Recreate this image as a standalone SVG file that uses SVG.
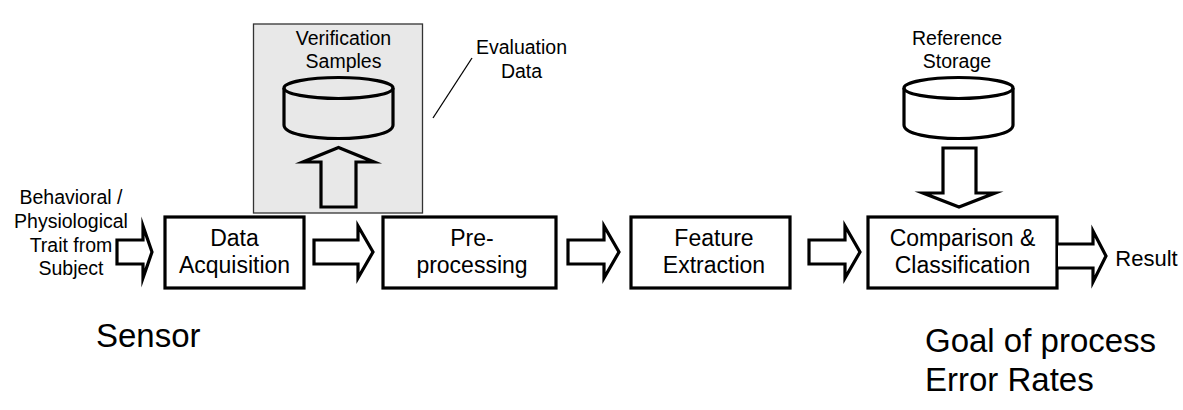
<svg xmlns="http://www.w3.org/2000/svg" width="1183" height="410" viewBox="0 0 1183 410">
<style>
text{font-family:"Liberation Sans",Arial,sans-serif;fill:#000;text-anchor:middle}
.s{font-size:19.500px}.m{font-size:23px}.l{font-size:33px;text-anchor:start}
.b{fill:#fff;stroke:#000;stroke-width:3.2}
.a{fill:#fff;stroke:#000;stroke-width:3.2;stroke-linejoin:miter;stroke-miterlimit:10}
.g{fill:#e8e8e8}
.c{stroke:#000;stroke-width:3.2}
</style>
<rect width="1183" height="410" fill="#fff"/>
<g id="evaluation-panel"><rect x="253.500" y="24" width="169" height="189" fill="#e8e8e8" stroke="#333" stroke-width="1.300"/></g>
<g id="verification-samples">
<text class="s" x="343.500" y="45">Verification</text><text class="s" x="343.500" y="68">Samples</text>
<path class="c g" d="M284 88V125C284 143 393 143 393 125V88"/><ellipse class="c g" cx="338.500" cy="88" rx="54.500" ry="10.500"/>
</g>
<g id="evaluation-data"><text class="s" x="521.500" y="54">Evaluation</text><text class="s" x="521.500" y="78">Data</text></g>
<g id="reference-storage">
<text class="s" x="957" y="45">Reference</text><text class="s" x="957" y="68">Storage</text>
<path class="c" fill="#fff" d="M904 88V125C904 143 1013 143 1013 125V88"/><ellipse class="c" fill="#fff" cx="958.500" cy="88" rx="54.500" ry="10.500"/>
</g>
<g id="trait-label"><text class="s" x="71" y="204">Behavioral /</text><text class="s" x="71" y="228">Physiological</text><text class="s" x="71" y="252">Trait from</text><text class="s" x="71" y="275">Subject</text></g>
<g id="data-acquisition"><rect class="b" x="165" y="217" width="139" height="71"/><text class="m" x="234.500" y="246">Data</text><text class="m" x="234.500" y="273">Acquisition</text></g>
<g id="pre-processing"><rect class="b" x="383" y="217" width="173" height="71"/><text class="m" x="472" y="246">Pre-</text><text class="m" x="472" y="273">processing</text></g>
<g id="feature-extraction"><rect class="b" x="631" y="217" width="159" height="71"/><text class="m" x="714" y="246">Feature</text><text class="m" x="714" y="273">Extraction</text></g>
<g id="comparison"><rect class="b" x="868" y="217" width="189" height="71"/><text class="m" x="962.500" y="246">Comparison &amp;</text><text class="m" x="962.500" y="273">Classification</text></g>
<g id="result"><text x="1146.500" y="266" font-size="22">Result</text></g>
<g id="sensor"><text class="l" x="96" y="347">Sensor</text></g>
<g id="goal"><text class="l" x="925" y="352">Goal of process</text><text class="l" x="925" y="391">Error Rates</text></g>
<g id="connectors">
<line x1="472" y1="58" x2="433" y2="118" stroke="#000" stroke-width="1.300"/>
<path class="a g" d="M321 207V162H303L338.500 147.500L374 162H356V207Z"/>
<path class="a" fill="#fff" d="M943 148V193H923L959 207L995 193H976V148Z"/>
<path class="a" d="M117 240H143V226L152 252L143 278V264H117Z"/>
<path class="a" d="M314 240H358V226L373 252L358 278V264H314Z"/>
<path class="a" d="M568 240H604V226L619 252L604 278V264H568Z"/>
<path class="a" d="M809 240H845V226L860 252L845 278V264H809Z"/>
<path class="a" d="M1058 244H1093V231L1106 256L1093 282V268H1058"/>
</g>
</svg>
